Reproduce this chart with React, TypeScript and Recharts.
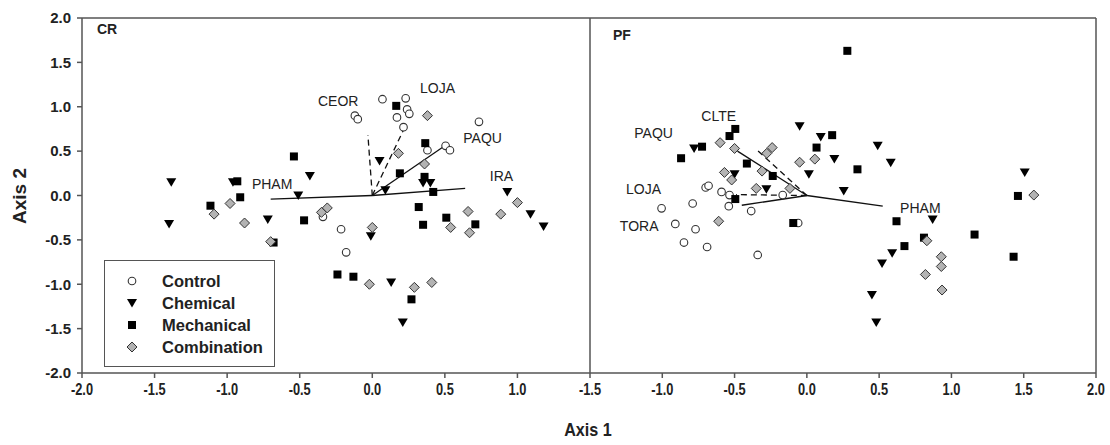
import React from 'react';
import {
  ScatterChart,
  Scatter,
  XAxis,
  YAxis,
  ReferenceLine,
  Legend,
} from 'recharts';

type Pt = { x: number; y: number };
type Named = { name: string; x: number; y: number };

// ---- CR panel ----
const crControl: Pt[] = [
  { x: -0.12, y: 0.9 }, { x: -0.1, y: 0.86 }, { x: 0.07, y: 1.085 }, { x: 0.23, y: 1.095 },
  { x: 0.24, y: 0.97 }, { x: 0.255, y: 0.92 }, { x: 0.17, y: 0.88 }, { x: 0.215, y: 0.77 },
  { x: 0.735, y: 0.83 }, { x: 0.38, y: 0.51 }, { x: 0.505, y: 0.56 }, { x: 0.535, y: 0.51 },
  { x: -0.34, y: -0.24 }, { x: -0.215, y: -0.38 }, { x: -0.18, y: -0.64 },
];
const crChemical: Pt[] = [
  { x: -1.385, y: 0.15 }, { x: -0.96, y: 0.15 }, { x: -0.43, y: 0.22 }, { x: -0.51, y: 0.0 },
  { x: -1.4, y: -0.32 }, { x: -0.72, y: -0.27 }, { x: -0.01, y: -0.46 }, { x: 0.13, y: -0.98 },
  { x: 0.21, y: -1.43 }, { x: 1.09, y: -0.21 }, { x: 1.18, y: -0.35 }, { x: 0.93, y: 0.04 },
  { x: 0.05, y: 0.39 }, { x: 0.35, y: 0.14 }, { x: 0.4, y: 0.14 }, { x: 0.09, y: 0.06 },
];
const crMechanical: Pt[] = [
  { x: -0.54, y: 0.44 }, { x: -0.93, y: 0.16 }, { x: -0.91, y: -0.02 }, { x: -1.115, y: -0.115 },
  { x: -0.68, y: -0.53 }, { x: -0.47, y: -0.28 }, { x: -0.24, y: -0.89 }, { x: -0.13, y: -0.915 },
  { x: 0.27, y: -1.17 }, { x: 0.32, y: -0.13 }, { x: 0.35, y: -0.33 }, { x: 0.51, y: -0.25 },
  { x: 0.71, y: -0.325 }, { x: 0.42, y: 0.04 }, { x: 0.165, y: 1.01 }, { x: 0.365, y: 0.59 },
  { x: 0.19, y: 0.25 }, { x: 0.36, y: 0.21 },
];
const crCombination: Pt[] = [
  { x: -1.09, y: -0.21 }, { x: -0.98, y: -0.09 }, { x: -0.88, y: -0.31 }, { x: -0.7, y: -0.52 },
  { x: -0.35, y: -0.19 }, { x: -0.31, y: -0.14 }, { x: -0.02, y: -1.0 }, { x: 0.29, y: -1.035 },
  { x: 0.41, y: -0.98 }, { x: 0.0, y: -0.36 }, { x: 0.54, y: -0.36 }, { x: 0.66, y: -0.18 },
  { x: 0.67, y: -0.42 }, { x: 0.885, y: -0.21 }, { x: 1.0, y: -0.08 }, { x: 0.38, y: 0.9 },
  { x: 0.18, y: 0.475 }, { x: 0.36, y: 0.355 },
];
const crVectors: Named[] = [
  { name: 'PHAM', x: -0.7, y: -0.04 },
  { name: 'IRA', x: 0.64, y: 0.08 },
  { name: 'PAQU', x: 0.5, y: 0.56 },
  { name: 'LOJA', x: 0.23, y: 0.79 },
  { name: 'CEOR', x: -0.03, y: 0.68 },
];
const crLabels: Named[] = [
  { name: 'CEOR', x: -0.235, y: 1.06 },
  { name: 'LOJA', x: 0.45, y: 1.21 },
  { name: 'PAQU', x: 0.76, y: 0.65 },
  { name: 'IRA', x: 0.89, y: 0.22 },
  { name: 'PHAM', x: -0.69, y: 0.13 },
];

// ---- PF panel ----
const pfControl: Pt[] = [
  { x: -0.7, y: 0.09 }, { x: -0.68, y: 0.11 }, { x: -0.59, y: 0.04 }, { x: -0.535, y: 0.005 },
  { x: -0.167, y: 0.005 }, { x: -1.005, y: -0.145 }, { x: -0.79, y: -0.09 }, { x: -0.91, y: -0.32 },
  { x: -0.77, y: -0.38 }, { x: -0.85, y: -0.53 }, { x: -0.69, y: -0.58 }, { x: -0.54, y: -0.12 },
  { x: -0.385, y: -0.175 }, { x: -0.34, y: -0.67 }, { x: -0.06, y: -0.31 },
];
const pfChemical: Pt[] = [
  { x: -0.78, y: 0.53 }, { x: -0.05, y: 0.78 }, { x: 0.096, y: 0.66 }, { x: 0.014, y: 0.24 },
  { x: 0.19, y: 0.41 }, { x: 0.255, y: 0.05 }, { x: -0.5, y: 0.24 }, { x: -0.28, y: 0.07 },
  { x: 0.49, y: 0.56 }, { x: 0.58, y: 0.37 }, { x: 1.507, y: 0.26 }, { x: 0.87, y: -0.27 },
  { x: 0.59, y: -0.65 }, { x: 0.52, y: -0.765 }, { x: 0.45, y: -1.12 }, { x: 0.48, y: -1.43 },
];
const pfMechanical: Pt[] = [
  { x: 0.28, y: 1.63 }, { x: -0.495, y: 0.75 }, { x: -0.535, y: 0.67 }, { x: -0.725, y: 0.55 },
  { x: -0.87, y: 0.42 }, { x: -0.415, y: 0.36 }, { x: -0.236, y: 0.22 }, { x: 0.175, y: 0.68 },
  { x: 0.067, y: 0.54 }, { x: 0.35, y: 0.295 }, { x: -0.495, y: -0.04 }, { x: -0.094, y: -0.31 },
  { x: 1.46, y: -0.005 }, { x: 0.62, y: -0.29 }, { x: 1.16, y: -0.44 }, { x: 0.81, y: -0.475 },
  { x: 0.675, y: -0.57 }, { x: 1.43, y: -0.69 },
];
const pfCombination: Pt[] = [
  { x: -0.6, y: 0.595 }, { x: -0.5, y: 0.53 }, { x: -0.31, y: 0.275 }, { x: -0.277, y: 0.475 },
  { x: -0.24, y: 0.54 }, { x: 0.055, y: 0.41 }, { x: -0.05, y: 0.375 }, { x: -0.57, y: 0.26 },
  { x: -0.52, y: 0.175 }, { x: -0.35, y: 0.08 }, { x: -0.117, y: 0.08 }, { x: 1.57, y: 0.005 },
  { x: -0.61, y: -0.29 }, { x: 0.83, y: -0.51 }, { x: 0.93, y: -0.69 }, { x: 0.93, y: -0.8 },
  { x: 0.82, y: -0.89 }, { x: 0.935, y: -1.065 },
];
const pfVectors: Named[] = [
  { name: 'PHAM', x: 0.525, y: -0.12 },
  { name: 'CLTE', x: -0.35, y: 0.52 },
  { name: 'PAQU', x: -0.48, y: 0.5 },
  { name: 'LOJA', x: -0.49, y: 0.01 },
  { name: 'TORA', x: -0.45, y: -0.11 },
];
const pfLabels: Named[] = [
  { name: 'CLTE', x: -0.61, y: 0.9 },
  { name: 'PAQU', x: -1.06, y: 0.7 },
  { name: 'LOJA', x: -1.13, y: 0.07 },
  { name: 'TORA', x: -1.16, y: -0.34 },
  { name: 'PHAM', x: 0.785, y: -0.14 },
];

const treatments = ['Control', 'Chemical', 'Mechanical', 'Combination'];
const yTicks = [-2, -1.5, -1, -0.5, 0, 0.5, 1, 1.5, 2];
const crXTicks = [-2, -1.5, -1, -0.5, 0, 0.5, 1];
const pfXTicks = [-1.5, -1, -0.5, 0, 0.5, 1, 1.5, 2];

// dashed vectors (style only)
const crDashed = ['LOJA', 'CEOR'];
const pfDashed = ['CLTE', 'LOJA'];

const FONT = '"Liberation Sans", Arial, sans-serif';
const AXIS = '#555';

const CircleMark = (p: any) => (
  <circle cx={p.cx} cy={p.cy} r={3.8} fill="#fff" stroke="#333" strokeWidth={1.1} />
);
const TriMark = (p: any) => (
  <path d={`M${p.cx - 5},${p.cy - 4}L${p.cx + 5},${p.cy - 4}L${p.cx},${p.cy + 4.5}Z`} fill="#000" />
);
const SquareMark = (p: any) => (
  <rect x={p.cx - 4} y={p.cy - 4} width={8} height={8} fill="#000" />
);
const DiamondMark = (p: any) => (
  <path
    d={`M${p.cx},${p.cy - 5}L${p.cx + 5},${p.cy}L${p.cx},${p.cy + 5}L${p.cx - 5},${p.cy}Z`}
    fill="#b3b3b3"
    stroke="#333"
    strokeWidth={1}
  />
);
const LabelMark = (p: any) => (
  <text
    x={p.cx}
    y={p.cy}
    textAnchor="middle"
    dominantBaseline="central"
    fontSize={14}
    fontFamily={FONT}
    fill="#222"
  >
    {p.payload?.name ?? p.name}
  </text>
);

const markers = [CircleMark, TriMark, SquareMark, DiamondMark];

const LegendBox = () => (
  <div
    style={{
      width: 171,
      height: 107,
      border: `1.5px solid ${AXIS}`,
      boxSizing: 'border-box',
      background: '#fff',
      paddingTop: 9,
      fontFamily: FONT,
      fontWeight: 700,
      fontSize: 16.5,
      color: '#222',
    }}
  >
    {treatments.map((t, i) => {
      const M = markers[i];
      return (
        <div key={t} style={{ display: 'flex', alignItems: 'center', height: 22 }}>
          <svg width={16} height={16} style={{ marginLeft: 19 }}>
            <M cx={8} cy={8} />
          </svg>
          <span style={{ marginLeft: 22 }}>{t}</span>
        </div>
      );
    })}
  </div>
);

const fmt = (v: number) => v.toFixed(1);
const yTick = { fontSize: 15, fontWeight: 700, fill: '#222', fontFamily: FONT };

// condensed bold tick labels like the original x axis
const XTick = (p: any) => (
  <g transform={`translate(${p.x},${p.y})`}>
    <text
      transform="scale(0.8,1)"
      dy="0.75em"
      textAnchor="middle"
      fontSize={16}
      fontWeight={700}
      fontFamily={FONT}
      fill="#222"
    >
      {fmt(p.payload.value)}
    </text>
  </g>
);

export default function App() {
  return (
    <div style={{ position: 'relative', width: 1110, height: 445, background: '#fff' }}>
      <style>{`body{margin:0}`}</style>

      <div style={{ position: 'absolute', left: 0, top: 0 }}>
        <ScatterChart width={595} height={445} margin={{ top: 18, right: 0, bottom: 42, left: 0 }}>
          <XAxis
            type="number"
            dataKey="x"
            domain={[-2, 1.5]}
            ticks={crXTicks}
            allowDataOverflow
            height={30}
            tickSize={5}
            tickMargin={5}
            tick={<XTick />}
            stroke={AXIS}
            strokeWidth={1.5}
          />
          <YAxis
            yAxisId="l"
            type="number"
            dataKey="y"
            domain={[-2, 2]}
            ticks={yTicks}
            allowDataOverflow
            width={82}
            tickSize={5}
            tickMargin={6}
            tick={yTick}
            tickFormatter={fmt}
            stroke={AXIS}
            strokeWidth={1.5}
          />
          <YAxis
            yAxisId="r"
            orientation="right"
            type="number"
            domain={[-2, 2]}
            ticks={yTicks}
            width={5}
            tickSize={5}
            tickFormatter={() => ''}
            stroke={AXIS}
            strokeWidth={1.5}
          />
          <ReferenceLine yAxisId="l" y={2} stroke={AXIS} strokeWidth={1.5} />
          {crVectors.map((v) => (
            <ReferenceLine
              key={v.name}
              yAxisId="l"
              segment={[{ x: 0, y: 0 }, { x: v.x, y: v.y }]}
              stroke="#111"
              strokeWidth={1.3}
              strokeDasharray={crDashed.includes(v.name) ? '6 4' : undefined}
              ifOverflow="visible"
            />
          ))}
          <Scatter yAxisId="l" data={crControl} shape={CircleMark} isAnimationActive={false} />
          <Scatter yAxisId="l" data={crChemical} shape={TriMark} isAnimationActive={false} />
          <Scatter yAxisId="l" data={crMechanical} shape={SquareMark} isAnimationActive={false} />
          <Scatter yAxisId="l" data={crCombination} shape={DiamondMark} isAnimationActive={false} />
          <Scatter yAxisId="l" data={crLabels} shape={LabelMark} isAnimationActive={false} />
          <Legend
            layout="horizontal"
            verticalAlign="middle"
            align="center"
            content={() => <LegendBox />}
            wrapperStyle={{ left: 104, top: 260, width: 171, height: 107 }}
          />
        </ScatterChart>
      </div>

      <div style={{ position: 'absolute', left: 560, top: 0 }}>
        <ScatterChart width={550} height={445} margin={{ top: 18, right: 14, bottom: 42, left: 30 }}>
          <XAxis
            type="number"
            dataKey="x"
            domain={[-1.5, 2]}
            ticks={pfXTicks}
            allowDataOverflow
            height={30}
            tickSize={5}
            tickMargin={5}
            tick={<XTick />}
            stroke={AXIS}
            strokeWidth={1.5}
          />
          <YAxis type="number" dataKey="y" domain={[-2, 2]} allowDataOverflow hide />
          <ReferenceLine y={2} stroke={AXIS} strokeWidth={1.5} />
          <ReferenceLine x={2} stroke={AXIS} strokeWidth={1.5} />
          {pfVectors.map((v) => (
            <ReferenceLine
              key={v.name}
              segment={[{ x: 0, y: 0 }, { x: v.x, y: v.y }]}
              stroke="#111"
              strokeWidth={1.3}
              strokeDasharray={pfDashed.includes(v.name) ? '6 4' : undefined}
              ifOverflow="visible"
            />
          ))}
          <Scatter data={pfControl} shape={CircleMark} isAnimationActive={false} />
          <Scatter data={pfChemical} shape={TriMark} isAnimationActive={false} />
          <Scatter data={pfMechanical} shape={SquareMark} isAnimationActive={false} />
          <Scatter data={pfCombination} shape={DiamondMark} isAnimationActive={false} />
          <Scatter data={pfLabels} shape={LabelMark} isAnimationActive={false} />
        </ScatterChart>
      </div>

      <div style={{ position: 'absolute', left: 97, top: 21, fontFamily: FONT, fontWeight: 700, fontSize: 14, color: '#222' }}>
        CR
      </div>
      <div style={{ position: 'absolute', left: 613, top: 27, fontFamily: FONT, fontWeight: 700, fontSize: 14, color: '#222' }}>
        PF
      </div>
      <div
        style={{
          position: 'absolute',
          left: 20,
          top: 196,
          transform: 'translate(-50%, -50%) rotate(-90deg)',
          fontFamily: FONT,
          fontWeight: 700,
          fontSize: 19,
          color: '#222',
          whiteSpace: 'nowrap',
        }}
      >
        Axis 2
      </div>
      <div
        style={{
          position: 'absolute',
          left: 588,
          top: 430,
          transform: 'translate(-50%, -50%) scaleX(0.85)',
          fontFamily: FONT,
          fontWeight: 700,
          fontSize: 19,
          color: '#222',
          whiteSpace: 'nowrap',
        }}
      >
        Axis 1
      </div>
    </div>
  );
}
